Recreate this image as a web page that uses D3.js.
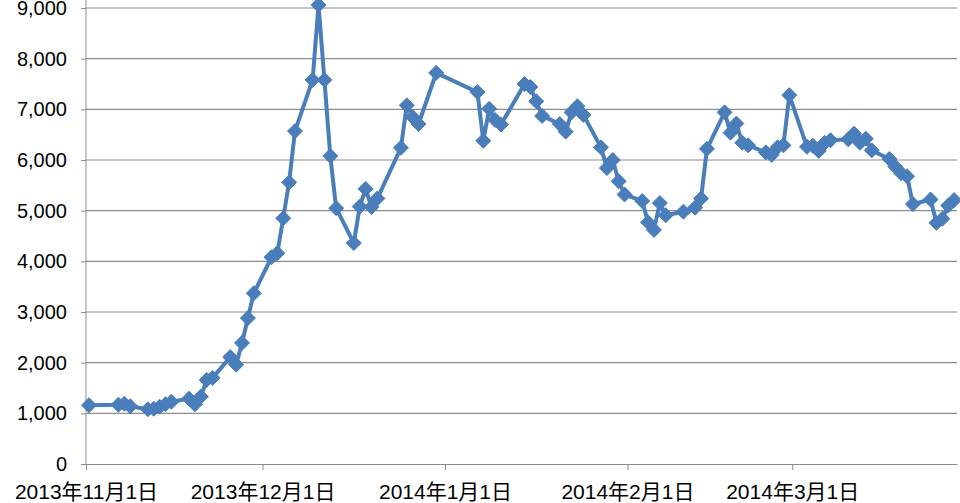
<!DOCTYPE html>
<html>
<head>
<meta charset="utf-8">
<script src="https://cdn.jsdelivr.net/npm/d3@7"></script>
<style>
  html, body { margin: 0; padding: 0; background: #fff; }
  svg { display: block; }
  text { font-family: "Liberation Sans", "Noto Sans CJK JP", sans-serif; fill: #000; }
</style>
</head>
<body>
<svg id="chart" width="960" height="503"></svg>
<script>
// ---- data ----
const dates = [
  "2013-11-01","2013-11-06","2013-11-07","2013-11-08","2013-11-11","2013-11-12","2013-11-13","2013-11-14","2013-11-15",
  "2013-11-18","2013-11-19","2013-11-20","2013-11-21","2013-11-22","2013-11-25","2013-11-26","2013-11-27","2013-11-28","2013-11-29",
  "2013-12-02","2013-12-03","2013-12-04","2013-12-05","2013-12-06","2013-12-09","2013-12-10","2013-12-11","2013-12-12","2013-12-13",
  "2013-12-16","2013-12-17","2013-12-18","2013-12-19","2013-12-20","2013-12-24","2013-12-25","2013-12-26","2013-12-27","2013-12-30",
  "2014-01-06","2014-01-07","2014-01-08","2014-01-09","2014-01-10","2014-01-14","2014-01-15","2014-01-16","2014-01-17",
  "2014-01-20","2014-01-21","2014-01-22","2014-01-23","2014-01-24","2014-01-27","2014-01-28","2014-01-29","2014-01-30","2014-01-31",
  "2014-02-03","2014-02-04","2014-02-05","2014-02-06","2014-02-07","2014-02-10","2014-02-12","2014-02-13","2014-02-14",
  "2014-02-17","2014-02-18","2014-02-19","2014-02-20","2014-02-21","2014-02-24","2014-02-25","2014-02-26","2014-02-27","2014-02-28",
  "2014-03-03","2014-03-04","2014-03-05","2014-03-06","2014-03-07","2014-03-10","2014-03-11","2014-03-12","2014-03-13","2014-03-14",
  "2014-03-17","2014-03-18","2014-03-19","2014-03-20","2014-03-21","2014-03-24","2014-03-25","2014-03-26","2014-03-27","2014-03-28"
];
const values = [
  1160,1170,1190,1140,1080,1090,1130,1180,1230,
  1290,1180,1330,1660,1700,2110,1960,2390,2880,3370,
  4080,4160,4850,5560,6570,7580,9060,7580,6080,5050,
  4360,5080,5430,5070,5240,6240,7080,6850,6710,7720,
  7340,6380,7010,6790,6700,7500,7440,7160,6870,
  6710,6560,6940,7060,6890,6250,5840,6000,5580,5320,
  5190,4770,4620,5150,4910,4980,5060,5240,6220,
  6940,6540,6720,6340,6290,6150,6100,6250,6290,7280,
  6260,6280,6180,6340,6390,6410,6520,6340,6420,6190,
  6020,5870,5740,5680,5130,5220,4760,4840,5100,5210
];
const yTicks = [0,1000,2000,3000,4000,5000,6000,7000,8000,9000];
const xTickDates = ["2013-11-01","2013-12-01","2014-01-01","2014-02-01","2014-03-01"];
const xDomain = ["2013-11-01","2014-03-29"];

// ---- chart ----
const parse = d3.utcParse("%Y-%m-%d");
const data = dates.map((d, i) => ({ date: parse(d), value: values[i] }));

const svg = d3.select("#chart");
const mLeft = 86, mRight = 957, mTop = 8, mBottom = 464;

const x = d3.scaleUtc().domain(xDomain.map(parse)).range([mLeft, mRight]);
const y = d3.scaleLinear().domain([0, 9000]).range([mBottom, mTop]);

const gridColor = "#8c8c8c";

// gridlines
svg.append("g")
  .selectAll("line")
  .data(yTicks.filter(t => t > 0))
  .join("line")
  .attr("x1", mLeft).attr("x2", mRight)
  .attr("y1", d => y(d)).attr("y2", d => y(d))
  .attr("stroke", gridColor)
  .attr("stroke-width", 1.2);

// y axis
const yAxis = svg.append("g")
  .attr("transform", `translate(${mLeft},0)`)
  .call(d3.axisLeft(y).tickValues(yTicks).tickFormat(d3.format(",")).tickSize(5).tickPadding(14));
yAxis.select(".domain").attr("d", `M0,0V${mBottom}`).attr("stroke", gridColor);
yAxis.selectAll(".tick line").attr("stroke", gridColor);
yAxis.selectAll(".tick text")
  .style("font-size", "20px")
  .attr("fill", "#000");

// x axis
const fmt = d => `${d.getUTCFullYear()}年${d.getUTCMonth() + 1}月${d.getUTCDate()}日`;
const xAxis = svg.append("g")
  .attr("transform", `translate(0,${mBottom})`)
  .call(d3.axisBottom(x).tickValues(xTickDates.map(parse)).tickFormat(fmt).tickSize(6).tickSizeOuter(0).tickPadding(14));
xAxis.select(".domain").attr("stroke", gridColor).attr("stroke-width", 1.2);
xAxis.selectAll(".tick line").attr("stroke", gridColor);
xAxis.selectAll(".tick text")
  .style("font-size", "21px")
  .attr("fill", "#000");

// series (offset slightly right, as markers sit in the reference)
const blue = "#4a7ebb";
const series = svg.append("g").attr("transform", "translate(3,0)");
series.append("path")
  .datum(data)
  .attr("fill", "none")
  .attr("stroke", blue)
  .attr("stroke-width", 4)
  .attr("stroke-linejoin", "round")
  .attr("d", d3.line().x(d => x(d.date)).y(d => y(d.value)));

// diamond markers
const r = 7.5;
series.append("g")
  .selectAll("path")
  .data(data)
  .join("path")
  .attr("transform", d => `translate(${x(d.date)},${y(d.value)})`)
  .attr("d", `M0,${-r}L${r},0L0,${r}L${-r},0Z`)
  .attr("fill", blue)
  .attr("stroke", blue)
  .attr("stroke-width", 1);
</script>
</body>
</html>
